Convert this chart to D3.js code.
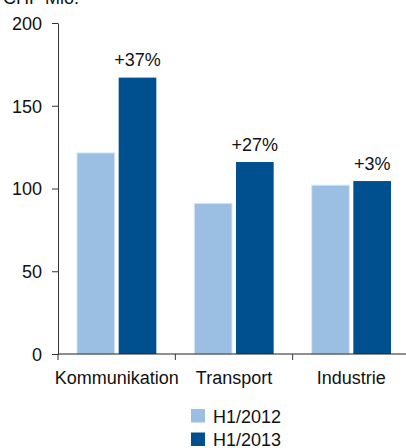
<!DOCTYPE html>
<html>
<head>
<meta charset="utf-8">
<script src="https://cdn.jsdelivr.net/npm/d3@7"></script>
<style>
  body { margin: 0; background: #fff; }
  svg text { font-family: "Liberation Sans", Arial, sans-serif; fill: #111; }
</style>
</head>
<body>
<svg id="chart" width="406" height="448"></svg>
<script>
const categories = ["Kommunikation", "Transport", "Industrie"];
const series = ["H1/2012", "H1/2013"];
const values2012 = [121.5, 91, 102];
const values2013 = [167, 116, 104.5];
const changeLabels = ["+37%", "+27%", "+3%"];
const yTicks = [0, 50, 100, 150, 200];
const colors = ["#9bbfe3", "#00508f"];

const svg = d3.select("#chart");
const margin = { left: 58, top: 23, bottom: 94 };

const x = d3.scaleBand()
  .domain(categories)
  .range([margin.left, 410])
  .paddingInner(0)
  .paddingOuter(0);

const y = d3.scaleLinear()
  .domain([0, 200])
  .range([354, 23]);

const xSub = d3.scaleBand()
  .domain(series)
  .range([0, x.bandwidth()])
  .paddingInner(0.096)
  .paddingOuter(0.456);

const data = categories.map((c, i) => ({ cat: c, vals: [values2012[i], values2013[i]], label: changeLabels[i] }));

// title
svg.append("text")
  .attr("x", 3)
  .attr("y", 4)
  .style("font-size", "18px")
  .text("CHF Mio.");

// bars
const groups = svg.selectAll("g.grp")
  .data(data)
  .enter()
  .append("g")
  .attr("class", "grp")
  .attr("transform", d => `translate(${x(d.cat)},0)`);

groups.selectAll("rect")
  .data(d => d.vals.map((v, j) => ({ s: series[j], v: v, j: j })))
  .enter()
  .append("rect")
  .attr("x", d => xSub(d.s))
  .attr("width", xSub.bandwidth())
  .attr("y", d => y(d.v))
  .attr("height", d => y(0) - y(d.v))
  .attr("fill", d => colors[d.j])
  .attr("stroke", d => d.j === 0 ? "#d6e6f5" : "none")
  .attr("stroke-width", 1);

groups.append("text")
  .attr("x", xSub(series[1]) + xSub.bandwidth() / 2)
  .attr("y", d => y(d.vals[1]) - 11.5)
  .attr("text-anchor", "middle")
  .style("font-size", "18px")
  .text(d => d.label);

// y axis
const yAxis = svg.append("g")
  .attr("transform", `translate(${margin.left},0)`)
  .call(d3.axisLeft(y).tickValues(yTicks).tickSize(6).tickPadding(10).tickSizeOuter(0));
yAxis.selectAll("text").style("font-size", "18px").attr("dy", "0.35em");
yAxis.selectAll("path, line").attr("stroke", "#333");

// x axis
const xAxisG = svg.append("g")
  .attr("transform", `translate(0,${y(0)})`);
xAxisG.append("line")
  .attr("x1", margin.left).attr("x2", 410)
  .attr("y1", 0).attr("y2", 0)
  .attr("stroke", "#222").attr("stroke-width", 1.2);
xAxisG.selectAll("line.tick")
  .data(categories)
  .enter()
  .append("line")
  .attr("class", "tick")
  .attr("x1", d => x(d)).attr("x2", d => x(d))
  .attr("y1", 0).attr("y2", 6)
  .attr("stroke", "#333");
xAxisG.selectAll("text")
  .data(categories)
  .enter()
  .append("text")
  .attr("x", d => x(d) + x.bandwidth() / 2)
  .attr("y", 29.5)
  .attr("text-anchor", "middle")
  .style("font-size", "18px")
  .text(d => d);

// legend
const legend = svg.selectAll("g.leg")
  .data(series)
  .enter()
  .append("g")
  .attr("class", "leg")
  .attr("transform", (d, i) => `translate(191,${409 + i * 23.5})`);
legend.append("rect")
  .attr("width", 14)
  .attr("height", 13.5)
  .attr("fill", (d, i) => colors[i]);
legend.append("text")
  .attr("x", 22)
  .attr("y", 13.5)
  .style("font-size", "18px")
  .text(d => d);
</script>
</body>
</html>
